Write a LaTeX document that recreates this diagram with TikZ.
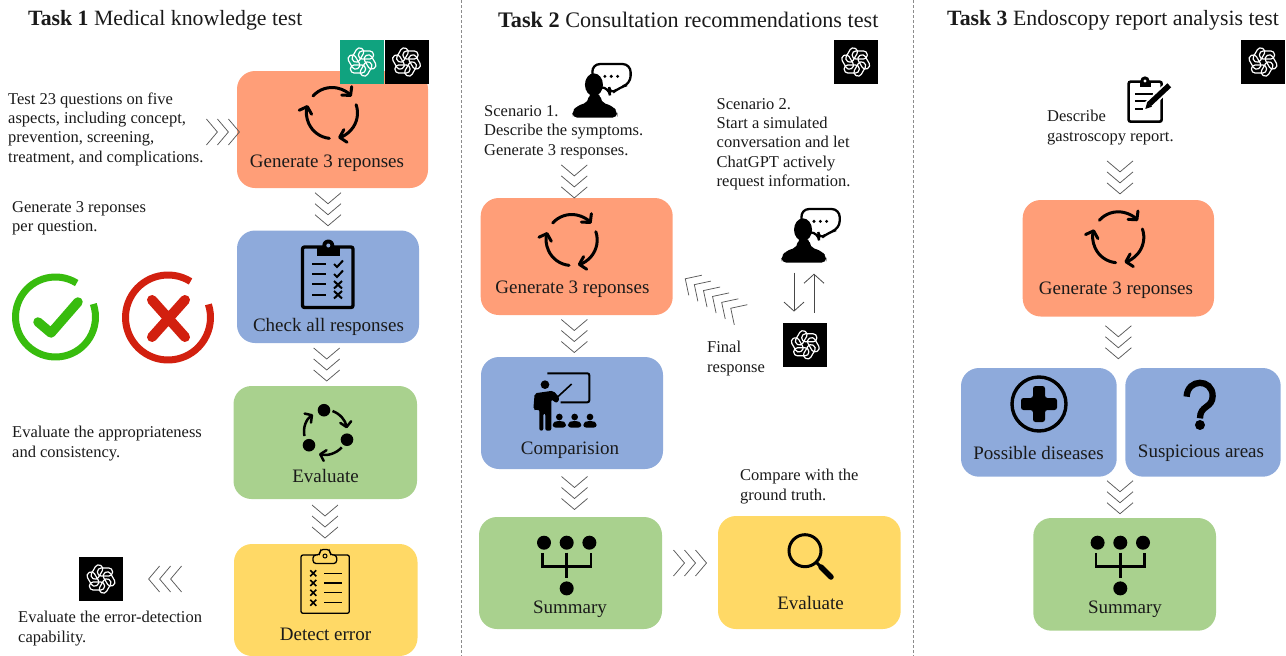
\documentclass[tikz,border=0pt]{standalone}
\usepackage{fontspec}
\setmainfont{Liberation Serif}
\usetikzlibrary{decorations.markings,arrows.meta}
\definecolor{cOrange}{HTML}{FF9E78}
\definecolor{cBlue}{HTML}{8EAADB}
\definecolor{cGreen}{HTML}{A9D18E}
\definecolor{cYellow}{HTML}{FFD966}
\definecolor{cGpt}{HTML}{10A37F}
\definecolor{cInk}{HTML}{1A1A1A}
\definecolor{cChev}{HTML}{595959}
\definecolor{cCheck}{HTML}{38BC0E}
\definecolor{cCross}{HTML}{D2200F}
\tikzset{
  chevline/.style={draw=cChev,line width=.75pt},
  chevthree/.style={postaction={decorate,decoration={markings,mark=at position .5 with {
    \foreach \a in {-5.5,5.5,16.5}{\draw[chevline] (\a-11,-13)--(\a,0)--(\a-11,13);}}}}},
  chevsix/.style={postaction={decorate,decoration={markings,mark=at position .5 with {
    \foreach \a in {-27.1,-16.3,-5.4,5.4,16.3,27.1}{\draw[chevline] (\a-12,-12)--(\a,0)--(\a-12,12);}}}}},
  flowbox/.style={rounded corners=18pt,inner sep=0pt,draw=none},
  boxlabel/.style={font=\fontsize{19}{22}\selectfont,text=cInk,inner sep=0pt},
  note/.style={font=\fontsize{16.5}{19.3}\selectfont,text=cInk,inner sep=0pt,align=left,anchor=west},
  headline/.style={font=\fontsize{21.8}{24}\selectfont,text=cInk,inner sep=0pt,anchor=west},
  gptbox/.style={fill=black,minimum width=44pt,minimum height=44pt,inner sep=0pt},
  divider/.style={draw=black!45,line width=.6pt,densely dashed},
  exchange/.style={draw=cInk!80,line width=.8pt,-{Straight Barb[length=9pt,width=20pt]},shorten <=10pt,shorten >=11pt},
  gptlogo/.pic={
    \foreach \k in {0,60,...,300}{
      \draw[white,line width=1.2pt,rotate=\k,rounded corners=3.6pt]
        (-3.5,-3)--(11.5,-3)--(11.5,-11)--(-3.5,-11)--cycle;
    }
  },
  iconcycle/.pic={
    \draw[black,line width=3pt,line cap=round,-{Straight Barb[length=6pt,width=13pt,round]}] (-138:25.5) arc[start angle=-138,end angle=-40,radius=25.5];
    \draw[black,line width=3pt,line cap=round,-{Straight Barb[length=6pt,width=13pt,round]}] (-19:25.5) arc[start angle=-19,end angle=76,radius=25.5];
    \draw[black,line width=3pt,line cap=round,-{Straight Barb[length=6pt,width=13pt,round]}] (96:25.5) arc[start angle=96,end angle=198,radius=25.5];
  },
  icontree/.pic={
    \fill[black] (-22.7,-24) circle (7) (0,-24) circle (7) (22.7,-24) circle (7) (0,21.7) circle (7);
    \draw[black,line width=2.6pt] (-24.3,-13.3)--(-24.3,0)--(24.3,0)--(24.3,-13.3) (0,-14)--(0,11);
  },
  iconperson/.pic={
    \begin{scope}[x=.3333pt,y=-.3333pt]
      \draw[black,line width=2.3pt,rounded corners=8pt,fill=white] (396,192)--(512,192)--(512,252)--(478,262)--(450,285)--(448,262)--(400,262)--cycle;
      \fill[black] (435,229) circle (5) (454,229) circle (5) (473,229) circle (5);
      \fill[black] (402,254) ellipse (27 and 34);
      \fill[black,rounded corners=5pt] (337,353)--(337,335)--(350,318)--(386,306)--(386,280)--(422,280)--(422,306)--(458,318)--(472,335)--(472,353)--cycle;
    \end{scope}
  }
}
\newcommand{\flowboxat}[6]{\node[flowbox,fill=#6,minimum width={(#4-#2)*1pt},minimum height={(#5-#3)*1pt}] (#1) at ({(#2+#4)/2},{(#3+#5)/2}) {};}
\begin{document}
\begin{tikzpicture}[x=1pt,y=-1pt]
\useasboundingbox (0,0) rectangle (1286,656);
% dividers
\coordinate (divAa) at (461,0); \coordinate (divAb) at (461,656);
\coordinate (divBa) at (913.5,0); \coordinate (divBb) at (913.5,656);
\draw[divider] (divAa)--(divAb);
\draw[divider] (divBa)--(divBb);
% titles
\node[headline] (titleA) at (28,20) {\textbf{Task 1} Medical knowledge test};
\node[headline,font=\fontsize{22.2}{24}\selectfont] (titleB) at (498,20) {\textbf{Task 2} Consultation recommendations test};
\node[headline] (titleC) at (947,20) {\textbf{Task 3} Endoscopy report analysis test};
% boxes
\flowboxat{genA}{237}{71}{428}{188}{cOrange}
\flowboxat{chkA}{237}{230.5}{419}{343}{cBlue}
\flowboxat{evaA}{233.5}{386}{417}{499}{cGreen}
\flowboxat{detA}{234}{544}{417.5}{656}{cYellow}
\flowboxat{genB}{480.7}{198}{672.7}{315}{cOrange}
\flowboxat{cmpB}{481}{357}{663}{469}{cBlue}
\flowboxat{sumB}{479}{517}{662}{629}{cGreen}
\flowboxat{evaB}{718}{516}{900.7}{629}{cYellow}
\flowboxat{genC}{1022.7}{200}{1214}{316.5}{cOrange}
\flowboxat{disC}{961}{368}{1116.7}{476.7}{cBlue}
\flowboxat{susC}{1125.3}{368}{1280.7}{476.7}{cBlue}
\flowboxat{sumC}{1033.3}{518}{1216}{630.7}{cGreen}
% box labels
\node[boxlabel] (genAt) at (327,163) {Generate 3 reponses};
\node[boxlabel] (chkAt) at (328.5,326.5) {Check all responses};
\node[boxlabel] (evaAt) at (325.5,475.5) {Evaluate};
\node[boxlabel] (detAt) at (325.5,634.5) {Detect error};
\node[boxlabel] (genBt) at (572.4,289) {Generate 3 reponses};
\node[boxlabel] (cmpBt) at (570,450.5) {Comparision};
\node[boxlabel] (sumBt) at (570,609.5) {Summary};
\node[boxlabel] (evaBt) at (810.5,602.5) {Evaluate};
\node[boxlabel] (genCt) at (1116,290) {Generate 3 reponses};
\node[boxlabel] (disCt) at (1038.5,453) {Possible diseases};
\node[boxlabel] (susCt) at (1201,453) {Suspicious areas};
\node[boxlabel] (sumCt) at (1125,609.5) {Summary};
% notes
\node[note] (noteA) at (8,129) {Test 23 questions on five\\aspects, including concept,\\prevention, screening,\\treatment, and complications.};
\node[note] (noteB) at (12,218) {Generate 3 reponses\\per question.};
\node[note] (noteC) at (12,443.5) {Evaluate the appropriateness\\and consistency.};
\node[note] (noteD) at (18,628.5) {Evaluate the error-detection\\capability.};
\node[note] (noteE) at (484,132) {Scenario 1.\\Describe the symptoms.\\Generate 3 responses.};
\node[note] (noteF) at (716.5,144) {Scenario 2.\\Start a simulated\\conversation and let\\ChatGPT actively\\request information.};
\node[note] (noteG) at (707,358.5) {Final\\response};
\node[note] (noteH) at (740,486.5) {Compare with the\\ground truth.};
\node[note] (noteI) at (1047,127.5) {Describe\\gastroscopy report.};
% GPT tiles
\node[gptbox,fill=cGpt] (gptG) at (362,62) {};
\node[gptbox] (gptA) at (406.5,62) {};
\node[gptbox] (gptB) at (855.7,62) {};
\node[gptbox] (gptC) at (1263,62) {};
\node[gptbox] (gptD) at (805.3,344.8) {};
\node[gptbox] (gptE) at (101,579) {};
\foreach \p in {gptG,gptA,gptB,gptC,gptD,gptE}{\pic at (\p) {gptlogo};}
% icons
\pic at (332,113) {iconcycle};
\pic at (571.7,240) {iconcycle};
\pic at (1118.3,237.3) {iconcycle};
\pic at (566.7,566.7) {icontree};
\pic at (1120.3,566.7) {icontree};
\coordinate (perA) at (594.6,117.7);
\coordinate (perB) at (803.7,262.7);
\begin{scope}[shift={(perA)},xshift={-404*.3333pt},yshift={353*.3333pt}]\pic at (0,0) {iconperson};\end{scope}
\begin{scope}[shift={(perB)},xshift={-404*.3333pt},yshift={353*.3333pt}]\pic at (0,0) {iconperson};\end{scope}
% check and cross
\draw[draw=cCheck,line width=7pt] ({55.5+40*cos(-58)},{317+40*sin(-58)}) arc[start angle=-58,end angle=-379,radius=40];
\draw[draw=cCheck,line width=9.5pt,line cap=round,line join=round] (38,322)--(51,333)--(78,302);
\draw[draw=cCross,line width=7pt] ({168+42.5*cos(-58)},{317.5+42.5*sin(-58)}) arc[start angle=-58,end angle=-378,radius=42.5];
\draw[draw=cCross,line width=10pt,line cap=round] (152,300)--(185,337) (185,300)--(152,337);
% clipboard check
\draw[black,line width=3.3pt,rounded corners=2pt] (302.5,247)--(353,247)--(353,307.5)--(302.5,307.5)--cycle;
\fill[black] (316.7,246) rectangle (340,256);
\fill[black] (328.3,245.5) circle (6);
\fill[cBlue] (328.3,245.5) circle (2);
\draw[black,line width=2.3pt] (312.3,264.3)--(326,264.3) (312.3,274.3)--(326,274.3) (312.3,284.3)--(326,284.3) (312.3,294.7)--(326,294.7);
\draw[black,line width=2pt] (334,264)--(337,267)--(343,260.5) (334,274)--(337,277)--(343,270.5);
\draw[black,line width=2pt] (334,281)--(342,288.5) (342,281)--(334,288.5) (334,291)--(342,298.5) (342,291)--(334,298.5);
% eval cycle
\begin{scope}[shift={(325,431.7)}]
\fill[black] (-1,-21.5) circle (6.3) (22,8) circle (6.3) (-16,13.5) circle (6.3);
\draw[black,line width=2.5pt,-{Straight Barb[length=5pt,width=11pt,round]}] (-70:22) arc[start angle=-70,end angle=-9,radius=22];
\draw[black,line width=2.5pt,-{Straight Barb[length=5pt,width=11pt,round]}] (43:23) arc[start angle=43,end angle=105,radius=23];
\draw[black,line width=2.5pt,-{Straight Barb[length=5pt,width=11pt,round]}] (168:21) arc[start angle=168,end angle=235,radius=21];
\end{scope}
% detect clipboard
\draw[black,line width=1.3pt,rounded corners=2pt] (301,555)--(349.3,555)--(349.3,613.3)--(301,613.3)--cycle;
\draw[black,line width=1.3pt,rounded corners=3pt,fill=cYellow] (313,563.5)--(313,555)--(320,555)--(320,549.5)--(330,549.5)--(330,555)--(336.7,555)--(336.7,563.5)--cycle;
\draw[black,line width=1pt] (325,556) circle (2);
\foreach \yy in {573.3,583,592.7,602.7}{
  \draw[black,line width=1.6pt] (310.3,\yy-3)--(316.3,\yy+3) (316.3,\yy-3)--(310.3,\yy+3);
  \draw[black,line width=1.1pt] (324.3,\yy)--(341.7,\yy);
}
% teacher
\begin{scope}[shift={(460,340)},x=.3333pt,y=-.3333pt]
\draw[black,line width=2pt,rounded corners=2pt] (262,100)--(388,100)--(388,187)--(302,187);
\fill[black] (255,134) circle (13);
\draw[black,line width=1.6pt] (285,178)--(335,132);
\fill[black,rounded corners=2pt] (220,208)--(224,160)--(280,152)--(300,175)--(290,190)--(274,178)--(274,272)--(256,272)--(256,220)--(250,220)--(250,272)--(238,272)--(238,208)--(228,212)--cycle;
\foreach \xx in {298,344,390}{
  \fill[black] (\xx,231) circle (10);
  \fill[black,rounded corners=3pt] (\xx-20,263)--(\xx-20,248)--(\xx-8,243)--(\xx+8,243)--(\xx+20,248)--(\xx+20,263)--cycle;
}
\end{scope}
% magnifier
\draw[black,line width=3pt] (805,550.7) circle (16);
\draw[black,line width=3pt] (816.5,562.5)--(821,567);
\draw[black,line width=5.5pt,line cap=round] (821,567)--(831,577);
% clipboard with pencil
\begin{scope}[shift={(910,0)},x=.3333pt,y=-.3333pt]
\draw[black,line width=2.6pt,rounded corners=2pt] (656,245)--(755,245)--(755,365)--(656,365)--cycle;
\fill[black] (690,245) rectangle (722,262);
\fill[black] (705,243) circle (14);
\fill[white] (705,243) circle (5);
\draw[black,line width=2pt] (675,282)--(728,282) (675,303)--(712,303) (675,326)--(700,326);
\draw[white,line width=9pt] (712,318)--(778,256);
\draw[black,line width=5.5pt] (718,312)--(778,256);
\fill[black] (706,327)--(712,306)--(726,320)--cycle;
\end{scope}
% plus
\draw[black,line width=3.4pt] (1039,404) circle (27);
\fill[black,rounded corners=2.5pt] (1033,386)--(1045,386)--(1045,398)--(1057,398)--(1057,410)--(1045,410)--(1045,422)--(1033,422)--(1033,410)--(1021,410)--(1021,398)--(1033,398)--cycle;
% question
\begin{scope}[shift={(910,340)},x=.3333pt,y=-.3333pt]
\draw[black,line width=6.3pt] (830,170) .. controls (832,115) and (908,115) .. (908,168) .. controls (908,205) and (870,195) .. (870,235);
\fill[black] (870,255) circle (15);
\end{scope}
% connectors
\coordinate (noteOut) at (209,132);
\path[chevthree] (noteOut) -- (noteOut -| genA.west);
\path[chevthree] (genA.south -| 328,0) -- (chkA.north -| 328,0);
\path[chevthree] (chkA.south -| 326.7,0) -- (evaA.north -| 326.7,0);
\path[chevthree] (evaA.south -| 325,0) -- (detA.north -| 325,0);
\coordinate (detOut) at (207,579);
\path[chevthree] (detOut) -- (gptE.east);
\coordinate (scenOne) at (574.3,165);
\path[chevthree] (scenOne) -- (scenOne |- genB.north);
\path[chevthree] (genB.south -| 574.3,0) -- (cmpB.north -| 574.3,0);
\path[chevthree] (cmpB.south -| 574.5,0) -- (sumB.north -| 574.5,0);
\path[chevthree] (sumB.east |- 0,563) -- (evaB.west |- 0,563);
\coordinate (finalA) at (754,323.3);
\coordinate (finalB) at (662,263.7);
\path[chevsix] (finalA) -- (finalB);
\draw[exchange] (perB -| 794,0) -- (gptD.north -| 794,0);
\draw[exchange] (gptD.north -| 814,0) -- (perB -| 814,0);
\coordinate (descOut) at (1120,155);
\path[chevthree] (descOut) -- (descOut |- genC.north);
\path[chevthree] (genC.south) -- (genC.south |- disC.north);
\coordinate (midOut) at (1120,476.7);
\path[chevthree] (midOut) -- (midOut |- sumC.north);
\end{tikzpicture}
\end{document}
